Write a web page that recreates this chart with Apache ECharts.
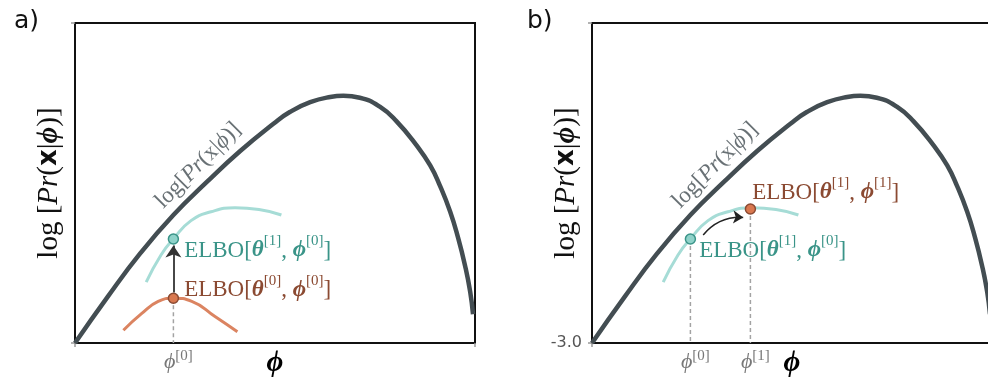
<!DOCTYPE html>
<html>
<head>
<meta charset="utf-8">
<script src="https://cdn.jsdelivr.net/npm/echarts@6/dist/echarts.min.js"></script>
<style>
html,body{margin:0;padding:0;background:#fff;}
#chart{width:988px;height:381px;}
</style>
</head>
<body>
<div id="chart"></div>
<script>
// ---- data ----
const xRange = [0, 10];
const yRange = [-3, 1];
// log Pr(x|phi) curve
const logPrX = [0, 0.82, 1.63, 2.46, 3.29, 4.13, 4.96, 5.38, 5.88, 6.38, 6.71, 7.12, 7.62, 8.04, 8.54, 8.88, 9.12, 9.38, 9.58, 9.75, 9.88, 9.95];
const logPrY = [-3.0, -2.42, -1.88, -1.40, -0.99, -0.60, -0.26, -0.11, 0.01, 0.075, 0.09, 0.066, -0.046, -0.23, -0.53, -0.78, -1.03, -1.36, -1.69, -2.03, -2.36, -2.64];
// ELBO with theta^[1] (teal)
const elbo1X = [1.78, 2.15, 2.46, 2.9, 3.4, 4.0, 4.6, 5.16];
const elbo1Y = [-2.24, -1.9, -1.70, -1.47, -1.36, -1.31, -1.33, -1.40];
// ELBO with theta^[0] (orange)
const elbo0X = [1.21, 1.67, 2.08, 2.46, 2.92, 3.5, 4.06];
const elbo0Y = [-2.84, -2.63, -2.48, -2.44, -2.48, -2.67, -2.86];
// parameter values
const phiValues = [2.46, 3.96];
const phiTickLabels = ['[0]', '[1]'];
// points
const pointA0 = [2.46, -2.44];   // ELBO[theta0, phi0]
const pointA1 = [2.46, -1.70];   // ELBO[theta1, phi0]
const pointB0 = [2.46, -1.70];   // ELBO[theta1, phi0]
const pointB1 = [3.96, -1.325];  // ELBO[theta1, phi1]
const yTickLabels = ['-3.0'];
const curveLabelPos = [3.08, -0.78];
const arrowA = [[2.46, -2.37], [2.46, -1.78]];
const arrowB = [[2.78, -1.65], [3.78, -1.43]];

// ---- styles ----
const SERIF = 'Liberation Serif';
const PHI = 'ϕ';
const C_MAIN = '#434d52';
const C_TEAL_LINE = '#a6dcd6';
const C_TEAL_TXT = '#3a9488';
const C_OR_LINE = '#db8461';
const C_OR_TXT = '#8b4a32';

function zip(xs, ys){ return xs.map((x,i)=>[x, ys[i]]); }

function richFor(color){
  return {
    n: {fontFamily: SERIF, fontSize: 23, color: color, lineHeight: 28, verticalAlign: 'bottom'},
    b: {fontFamily: SERIF, fontSize: 23, color: color, fontWeight: 'bold', fontStyle: 'italic', lineHeight: 28, verticalAlign: 'bottom'},
    s: {fontFamily: SERIF, fontSize: 15, color: color, lineHeight: 15, verticalAlign: 'top'}
  };
}
function elboText(t, p){
  return '{n|ELBO[}{b|θ}{s|[' + t + ']}{n|, }{b|' + PHI + '}{s|[' + p + ']}{n|]}';
}

const curveLabelRich = {
  n: {fontFamily: SERIF, fontSize: 23, color: '#434d52'},
  i: {fontFamily: SERIF, fontSize: 23, color: '#434d52', fontStyle: 'italic'}
};
const curveLabelText = '{n|log[}{i|Pr}{n|(x|}{i|' + PHI + '}{n|)]}';

const yNameRich = {
  n: {fontFamily: SERIF, fontSize: 29, color: '#111'},
  i: {fontFamily: SERIF, fontSize: 29, color: '#111', fontStyle: 'italic'},
  x: {fontFamily: 'DejaVu Sans', fontSize: 26, color: '#111', fontWeight: 'bold'},
  p: {fontFamily: SERIF, fontSize: 29, color: '#111', fontStyle: 'italic', fontWeight: 'bold'}
};
const yNameText = '{n|log [}{i|Pr}{n|(}{x|x}{n||}{p|' + PHI + '}{n|)]}';

function makeXAxis(gridIndex, phis){
  return {
    type: 'value', gridIndex: gridIndex, min: xRange[0], max: xRange[1],
    name: PHI, nameLocation: 'middle', nameGap: 6, nameMoveOverlap: false,
    nameTextStyle: {fontFamily: SERIF, fontSize: 29, fontStyle: 'italic', fontWeight: 'bold', color: '#000'},
    axisLine: {show: true, onZero: false, lineStyle: {color: '#111', width: 2}},
    axisTick: {show: true, customValues: xRange, length: 4, lineStyle: {color: '#999', width: 1.5}},
    axisLabel: {
      show: phis.length > 0, customValues: phis, margin: 6,
      formatter: function(v){
        const k = phiValues.indexOf(v);
        return '{p|' + PHI + '}{s|' + phiTickLabels[k] + '}';
      },
      padding: [0, 0, 0, 10],
      rich: {
        p: {fontFamily: SERIF, fontSize: 22, fontStyle: 'italic', color: '#777', lineHeight: 24, verticalAlign: 'bottom'},
        s: {fontFamily: SERIF, fontSize: 15, color: '#777', lineHeight: 15, verticalAlign: 'top'}
      }
    },
    splitLine: {show: false}
  };
}
function makeYAxis(gridIndex, showLabel){
  return {
    type: 'value', gridIndex: gridIndex, min: yRange[0], max: yRange[1],
    name: yNameText, nameLocation: 'middle', nameGap: 11, nameRotate: 90, nameMoveOverlap: false,
    nameTextStyle: {rich: yNameRich},
    axisLine: {show: true, onZero: false, lineStyle: {color: '#111', width: 2}},
    axisTick: {show: true, customValues: yRange, length: 4, lineStyle: {color: '#999', width: 1.5}},
    axisLabel: {
      show: showLabel, customValues: [yRange[0]], margin: 10,
      formatter: function(){ return yTickLabels[0]; },
      fontFamily: 'DejaVu Sans', fontSize: 16, color: '#555'
    },
    splitLine: {show: false}
  };
}

function mainCurve(i){
  return {type: 'line', xAxisIndex: i, yAxisIndex: i, data: zip(logPrX, logPrY), smooth: 0.5,
    showSymbol: false, lineStyle: {color: C_MAIN, width: 4.5, cap: 'butt'}, z: 3, silent: true};
}
function curveLabel(i){
  return {type: 'scatter', xAxisIndex: i, yAxisIndex: i, data: [curveLabelPos], symbolSize: 0,
    label: {show: true, position: 'inside', rotate: 45, formatter: curveLabelText, rich: curveLabelRich}, z: 4};
}
function tealCurve(i){
  return {type: 'line', xAxisIndex: i, yAxisIndex: i, data: zip(elbo1X, elbo1Y), smooth: 0.5,
    showSymbol: false, lineStyle: {color: C_TEAL_LINE, width: 3}, z: 2};
}
function dashed(i, pt){
  return {type: 'line', xAxisIndex: i, yAxisIndex: i, data: [pt, [pt[0], yRange[0]]],
    showSymbol: false, lineStyle: {color: '#a3a3a3', width: 1.5, type: [4, 3]}, z: 1};
}
function dot(i, pt, fill, stroke, label){
  return {type: 'scatter', xAxisIndex: i, yAxisIndex: i, data: [pt], symbolSize: 10,
    itemStyle: {color: fill, borderColor: stroke, borderWidth: 1.5, opacity: 1}, z: 6,
    label: label};
}
function arrow(i, seg, color, width, curveness, size){
  return {type: 'lines', coordinateSystem: 'cartesian2d', xAxisIndex: i, yAxisIndex: i,
    data: [{coords: seg}], symbol: ['none', 'arrow'], symbolSize: size,
    lineStyle: {color: color, width: width, curveness: curveness, opacity: 1}, z: 5, silent: true};
}

const option = {
  animation: false,
  backgroundColor: '#fff',
  title: [
    {text: 'a)', left: 9, top: 4, textStyle: {fontFamily: 'DejaVu Sans', fontSize: 25, fontWeight: 'normal', color: '#111'}},
    {text: 'b)', left: 522, top: 4, textStyle: {fontFamily: 'DejaVu Sans', fontSize: 25, fontWeight: 'normal', color: '#111'}}
  ],
  grid: [
    {left: 75, top: 23, width: 400, height: 320, show: true, borderColor: '#111', borderWidth: 2, outerBoundsMode: 'none', containLabel: false},
    {left: 592, top: 23, width: 400, height: 320, show: true, borderColor: '#111', borderWidth: 2, outerBoundsMode: 'none', containLabel: false}
  ],
  xAxis: [makeXAxis(0, [phiValues[0]]), makeXAxis(1, phiValues)],
  yAxis: [makeYAxis(0, false), makeYAxis(1, true)],
  series: [
    // panel a
    dashed(0, pointA0),
    tealCurve(0),
    {type: 'line', xAxisIndex: 0, yAxisIndex: 0, data: zip(elbo0X, elbo0Y), smooth: 0.5,
      showSymbol: false, lineStyle: {color: C_OR_LINE, width: 3}, z: 2},
    mainCurve(0),
    curveLabel(0),
    arrow(0, arrowA, '#333', 1.8, 0, 12),
    dot(0, pointA1, '#8ed2c9', C_TEAL_TXT, {show: true, position: 'right', offset: [0, 9], formatter: elboText(1, 0), rich: richFor(C_TEAL_TXT)}),
    dot(0, pointA0, '#d9784f', C_OR_TXT, {show: true, position: 'right', offset: [0, -11], formatter: elboText(0, 0), rich: richFor(C_OR_TXT)}),
    // panel b
    dashed(1, pointB0),
    dashed(1, pointB1),
    tealCurve(1),
    mainCurve(1),
    curveLabel(1),
    arrow(1, arrowB, '#222', 1.5, 0.25, 10),
    dot(1, pointB0, '#8ed2c9', C_TEAL_TXT, {show: true, position: 'right', offset: [-2, 9], formatter: elboText(1, 0), rich: richFor(C_TEAL_TXT)}),
    dot(1, pointB1, '#d9784f', C_OR_TXT, {show: true, position: 'right', offset: [-9, -19], formatter: elboText(1, 1), rich: richFor(C_OR_TXT)})
  ]
};

const chart = echarts.init(document.getElementById('chart'), null, {renderer: 'canvas'});
chart.setOption(option);
</script>
</body>
</html>
